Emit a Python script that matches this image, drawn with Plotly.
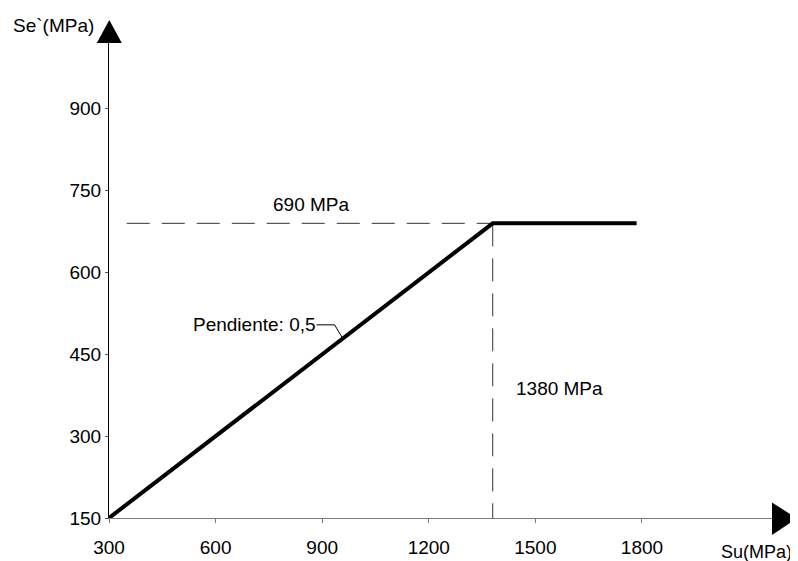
import plotly.graph_objects as go

# ---- data ----
su_values = [300, 1380, 1785]
se_values = [150, 690, 690]
x_tick_vals = [300, 600, 900, 1200, 1500, 1800]
y_tick_vals = [150, 300, 450, 600, 750, 900]
guide_h_x = [350, 1380]
guide_h_y = [690, 690]
guide_v_x = [1380, 1380]
guide_v_y = [690, 150]
leader_x = [884, 935, 958]
leader_y = [504, 504, 479]
slope_label = "Pendiente: 0,5"
se_label = "690 MPa"
su_label = "1380 MPa"

# ---- layout geometry (page has an 8px body margin) ----
OFF = 8
WIN_W, WIN_H = 798, 561
W, H = WIN_W - OFF, WIN_H - OFF
AX_X, AX_Y = 109, 518          # window pixel of the axes origin
END_X, END_Y = 772, 43         # window pixel of arrow bases
L = AX_X - OFF
T = END_Y - OFF
R = W - (END_X - OFF)
B = H - (AX_Y - OFF)
PW, PH = W - L - R, H - T - B
X_RANGE = [300, 2166]
Y_RANGE = [150, 1020.5]
FONT = "Liberation Sans, Arial, sans-serif"
FS = 19


def px(xp):
    return (xp - AX_X) / PW


def py(yp):
    return (AX_Y - yp) / PH


fig = go.Figure()

fig.add_trace(go.Scatter(x=guide_h_x, y=guide_h_y, mode="lines",
                         line=dict(color="#333333", width=1, dash="23px,12px"),
                         hoverinfo="skip"))
fig.add_trace(go.Scatter(x=guide_v_x, y=guide_v_y, mode="lines",
                         line=dict(color="#333333", width=1, dash="23px,12px"),
                         hoverinfo="skip"))
fig.add_trace(go.Scatter(x=su_values, y=se_values, mode="lines",
                         line=dict(color="black", width=4), hoverinfo="skip"))
fig.add_trace(go.Scatter(x=leader_x, y=leader_y, mode="lines",
                         line=dict(color="black", width=1), hoverinfo="skip"))

# arrows (paper coordinates computed from pixel geometry)
ya = f"M {px(96.8)} {py(43)} L {px(121.8)} {py(43)} L {px(109.3)} {py(20)} Z"
xa = f"M {px(772)} {py(502.5)} L {px(772)} {py(535)} L {px(797)} {py(518.5)} Z"
for p in (ya, xa):
    fig.add_shape(type="path", path=p, xref="paper", yref="paper",
                  fillcolor="black", line=dict(color="black", width=0),
                  layer="above")

annos = [
    dict(text=slope_label, x=leader_x[0], y=leader_y[0], xref="x", yref="y",
         xanchor="right", yanchor="middle", size=FS),
    dict(text=se_label, x=760, y=724, xref="x", yref="y",
         xanchor="left", yanchor="middle", size=FS),
    dict(text=su_label, x=1442, y=387, xref="x", yref="y",
         xanchor="left", yanchor="middle", size=FS),
    dict(text="Se`(MPa)", x=px(12), y=py(26), xref="paper", yref="paper",
         xanchor="left", yanchor="middle", size=FS),
    dict(text="Su(MPa)", x=px(793), y=py(552), xref="paper", yref="paper",
         xanchor="right", yanchor="middle", size=18),
]
for a in annos:
    size = a.pop("size")
    fig.add_annotation(showarrow=False, font=dict(family=FONT, size=size, color="black"),
                       borderpad=0, **a)

fig.update_layout(
    width=W, height=H,
    margin=dict(l=L, r=R, t=T, b=B, pad=0, autoexpand=False),
    paper_bgcolor="white", plot_bgcolor="white",
    showlegend=False,
    font=dict(family=FONT, size=FS, color="black"),
    xaxis=dict(range=X_RANGE, tickvals=x_tick_vals, ticktext=[str(v) for v in x_tick_vals],
               showgrid=False, zeroline=False, showline=True, linecolor="#7a7a7a",
               linewidth=1, ticks="outside", ticklen=4, tickcolor="#7a7a7a",
               ticklabelstandoff=8, automargin=False,
               tickfont=dict(family=FONT, size=FS, color="black")),
    yaxis=dict(range=Y_RANGE, tickvals=y_tick_vals, ticktext=[str(v) for v in y_tick_vals],
               showgrid=False, zeroline=False, showline=True, linecolor="black",
               linewidth=1, ticks="outside", ticklen=3, tickcolor="#555555",
               automargin=False,
               tickfont=dict(family=FONT, size=FS, color="black")),
)

fig.write_html("out.html")
